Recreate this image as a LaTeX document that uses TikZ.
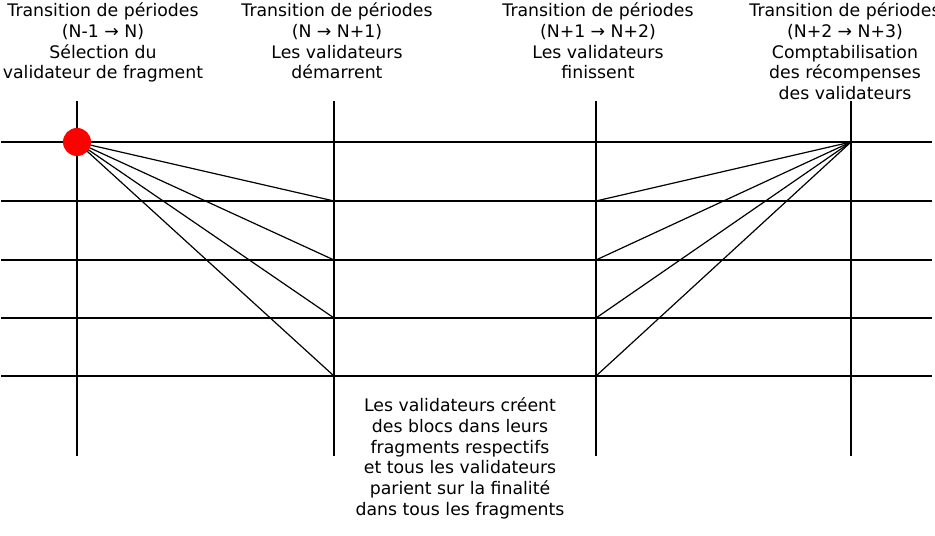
\documentclass[tikz,border=0pt]{standalone}
\usepackage{fontspec}
\setmainfont{DejaVu Sans}
\usetikzlibrary{calc}

\begin{document}
\begin{tikzpicture}[x=1bp,y=-1bp,line width=1.2bp]
   \tikzset{label/.style={align=center,font=\fontsize{17.3bp}{20.8bp}\selectfont,inner sep=0pt}};
   \tikzset{dot/.style={circle,fill=red,minimum size=28bp,inner sep=0pt}};

\useasboundingbox (0,0) rectangle (935,536);

%grid--------------------------
\foreach \x [count=\i] in {77,334,596,851}{
    \coordinate (t\i) at (\x,101);
    \coordinate (b\i) at (\x,456);
    \draw (t\i) -- (b\i);
}

\foreach \y [count=\i] in {142,201,260,318,376}{
    \coordinate (l\i) at (1,\y);
    \coordinate (r\i) at (932,\y);
    \draw (l\i) -- (r\i);
}

\foreach \y [count=\i] in {201,260,318,376}{
    \coordinate (a\i) at (334,\y);
    \coordinate (c\i) at (596,\y);
}

%fans--------------------------
\coordinate (s0) at (77,142);
\coordinate (z) at (851,142);

\foreach \i in {1,...,4}{
    \draw (s0) -- (a\i);
    \draw (z) -- (c\i);
}
\node[dot] (s) at (s0) {};

%labels-------------------------
\node[label,anchor=north] (p1) at (103,2) {Transition de périodes\\(N-1 → N)\\Sélection du\\validateur de fragment};
\node[label,anchor=north] (p2) at (337,2) {Transition de périodes\\(N → N+1)\\Les validateurs\\démarrent};
\node[label,anchor=north] (p3) at (598,2) {Transition de périodes\\(N+1 → N+2)\\Les validateurs\\finissent};
\node[label,anchor=north] (p4) at (845,2) {Transition de périodes\\(N+2 → N+3)\\Comptabilisation\\des récompenses\\des validateurs};

\node[label,anchor=north] (f) at (460,397) {Les validateurs créent\\des blocs dans leurs\\fragments respectifs\\et tous les validateurs\\parient sur la finalité\\dans tous les fragments};

\end{tikzpicture}
\end{document}
